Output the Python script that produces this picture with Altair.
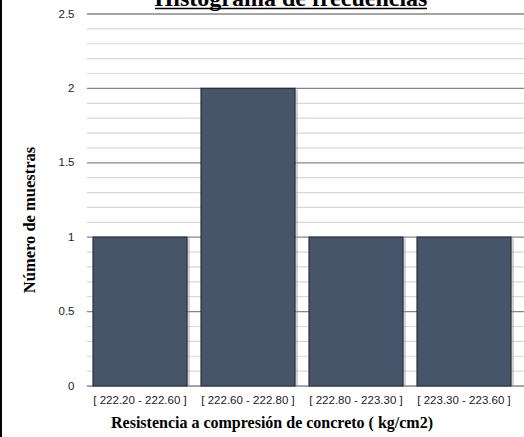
import altair as alt
import pandas as pd

# Intervalos de clase y frecuencias
intervalos = [
    "[ 222.20 - 222.60 ]",
    "[ 222.60 - 222.80 ]",
    "[ 222.80 - 223.30 ]",
    "[ 223.30 - 223.60 ]",
]
frecuencias = [1, 2, 1, 1]

# Líneas de cuadrícula principales y secundarias
grid_principal = [0, 0.5, 1, 1.5, 2, 2.5]
grid_secundaria = [0.1, 0.2, 0.3, 0.4, 0.6, 0.7, 0.8, 0.9, 1.1, 1.2, 1.3, 1.4,
                   1.6, 1.7, 1.8, 1.9, 2.1, 2.2, 2.3, 2.4]

W, H = 432, 372
SANS = "Liberation Sans"
SERIF = "Liberation Serif"

df = pd.DataFrame({"intervalo": intervalos, "n": frecuencias})
df_gmaj = pd.DataFrame({"v": grid_principal})
df_gmin = pd.DataFrame({"v": grid_secundaria})

yscale = alt.Scale(domain=[0, 2.5], nice=False, zero=True)
xscale = alt.Scale(paddingInner=0.13, paddingOuter=0.065)

y_axis = alt.Axis(title=None, values=grid_principal, format="~g",
                  grid=False, domain=False, ticks=False,
                  labelFont=SANS, labelFontSize=11.5, labelColor="#222",
                  labelPadding=12, labelOverlap=False)

minor = alt.Chart(df_gmin).mark_rule(color="#d9d9d9", strokeWidth=1.2).encode(
    y=alt.Y("v:Q", scale=yscale, axis=y_axis),
    x=alt.value(1), x2=alt.value(440),
)
major = alt.Chart(df_gmaj).mark_rule(color="#868686", strokeWidth=1.3).encode(
    y=alt.Y("v:Q", scale=yscale, axis=y_axis),
    x=alt.value(1), x2=alt.value(440),
)

x_enc = alt.X(
    "intervalo:N", sort=intervalos, scale=xscale,
    axis=alt.Axis(title=None, domain=False, ticks=False, grid=False, labelAngle=0,
                  labelFont=SANS, labelFontSize=11.5, labelColor="#222",
                  labelPadding=8),
)

shadow = alt.Chart(df).mark_bar(color="#9a9a9a", opacity=0.45, xOffset=3, yOffset=1).encode(
    x=x_enc,
    y=alt.Y("n:Q", scale=yscale, axis=y_axis),
)

bars = alt.Chart(df).mark_bar(color="#465569", stroke="#262f3b", strokeWidth=1.2).encode(
    x=x_enc,
    y=alt.Y("n:Q", scale=yscale, axis=y_axis),
)

titulo = alt.Chart(df.head(1)).mark_text(
    text="Histograma de frecuencias", font=SERIF, fontSize=24, fontWeight="bold",
    color="black", baseline="alphabetic", align="center",
).encode(x=alt.value(205), y=alt.value(-8))

subrayado = alt.Chart(df.head(1)).mark_rule(color="black", strokeWidth=1.6).encode(
    x=alt.value(69), x2=alt.value(341), y=alt.value(-5.5)
)

titulo_x = alt.Chart(df.head(1)).mark_text(
    text="Resistencia a compresión de concreto ( kg/cm2)", font=SERIF, fontSize=16,
    fontWeight="bold", color="black", baseline="alphabetic", align="center",
).encode(x=alt.value(186), y=alt.value(414))

titulo_y = alt.Chart(df.head(1)).mark_text(
    text="Número de muestras", font=SERIF, fontSize=16.5, fontWeight="bold",
    color="black", baseline="middle", align="center", angle=270,
).encode(x=alt.value(-56), y=alt.value(206))

borde = alt.Chart(df.head(1)).mark_rule(color="black", strokeWidth=2).encode(
    x=alt.value(-85), y=alt.value(-14), y2=alt.value(423)
)

chart = alt.layer(
    minor, major, shadow, bars, titulo, subrayado, titulo_x, titulo_y, borde
).resolve_scale(y="shared").properties(
    width=W, height=H,
    background="white",
    autosize=alt.AutoSizeParams(type="none"),
    padding={"left": 86, "top": 14, "right": 6, "bottom": 51},
).configure_view(strokeWidth=0)

chart.save("out.html", embed_options={"renderer": "svg", "actions": False})
